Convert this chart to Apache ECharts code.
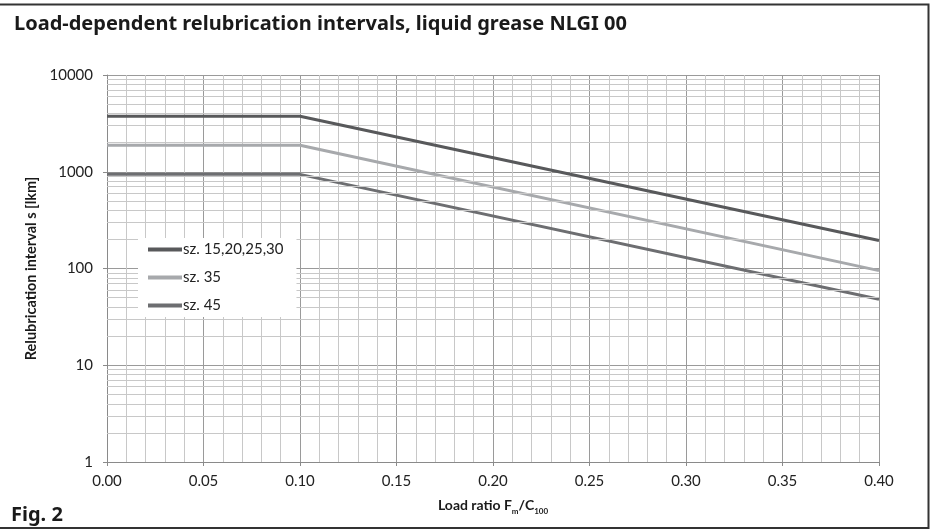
<!DOCTYPE html>
<html>
<head>
<meta charset="utf-8">
<script src="https://cdn.jsdelivr.net/npm/echarts@6/dist/echarts.min.js"></script>
<style>
html,body{margin:0;padding:0;background:#fff;}
#chart{width:930px;height:530px;}
</style>
</head>
<body>
<div id="chart"></div>
<script>
// Data
const loadRatio = [0.00, 0.10, 0.40];
const sz15_30 = [3750, 3750, 195];
const sz35 = [1875, 1875, 95];
const sz45 = [940, 940, 48];
const seriesNames = ['sz. 15,20,25,30', 'sz. 35', 'sz. 45'];
const xTicks = ['0.00','0.05','0.10','0.15','0.20','0.25','0.30','0.35','0.40'];
const yTicks = [1, 10, 100, 1000, 10000];
const yMinorGrid = [2,3,4,5,6,7,8,9,20,30,40,50,60,70,80,90,200,300,400,500,600,700,800,900,2000,3000,4000,5000,6000,7000,8000,9000];

const chart = echarts.init(document.getElementById('chart'), null, {renderer:'canvas'});
const pair = arr => loadRatio.map((x,i)=>[x, arr[i]]);
const fontLabel = 'Lato, "Open Sans", sans-serif';

chart.setOption({
  animation:false,
  backgroundColor:'#fff',
  title:[
    {text:'Load-dependent relubrication intervals, liquid grease NLGI 00', left:9, top:9,
     textStyle:{fontFamily:'"Noto Sans", "Open Sans", sans-serif', fontSize:20, fontWeight:'bold', color:'#1a1a1a'}},
    {text:'Fig. 2', left:6, top:500,
     textStyle:{fontFamily:'"Noto Sans", "Open Sans", sans-serif', fontSize:20, fontWeight:'bold', color:'#1a1a1a'}}
  ],
  graphic:[
    {type:'polyline', silent:true, z:100, shape:{points:[[0,4.5],[928.5,4.5],[928.5,528],[0,528]]},
     style:{stroke:'#333', lineWidth:2, fill:null}}
  ],
  legend:{
    data:seriesNames.map(n=>({name:n, icon:'rect'})),
    orient:'vertical', left:138, top:238, z:20,
    padding:[4,13,4,10], itemGap:13, itemWidth:34, itemHeight:4,
    backgroundColor:'#fff',
    textStyle:{fontFamily:fontLabel, fontSize:15, color:'#222', padding:[0,0,0,-4]}
  },
  grid:{left:107, right:51, top:75, bottom:68, containLabel:false},
  xAxis:{
    type:'value', min:0, max:0.4, interval:0.05,
    name:'{b|Load ratio F}{s|m}{b|/C}{s|100}', nameLocation:'middle', nameGap:36,
    nameTextStyle:{rich:{
      b:{fontFamily:fontLabel, fontSize:14, fontWeight:'bold', color:'#1a1a1a', verticalAlign:'bottom'},
      s:{fontFamily:fontLabel, fontSize:8, fontWeight:'bold', color:'#1a1a1a', verticalAlign:'bottom', padding:[0,0,-3,0]}
    }},
    axisLine:{show:true, lineStyle:{color:'#8a8a8a', width:1}},
    axisTick:{show:true, length:4, lineStyle:{color:'#8a8a8a'}},
    axisLabel:{fontFamily:fontLabel, fontSize:15, color:'#222', margin:12,
      formatter:(v)=>xTicks[Math.round(v/0.05)]},
    splitLine:{show:true, lineStyle:{color:'#9a9a9a', width:1}},
    minorTick:{show:false, splitNumber:5},
    minorSplitLine:{show:true, lineStyle:{color:'#c8c8c8', width:1}}
  },
  yAxis:{
    type:'log', logBase:10, min:1, max:10000,
    name:'Relubrication interval s [lkm]', nameLocation:'middle', nameGap:64,
    nameTextStyle:{fontFamily:fontLabel, fontSize:14.5, fontWeight:'bold', color:'#1a1a1a'},
    axisLine:{show:true, lineStyle:{color:'#8a8a8a', width:1}},
    axisTick:{show:true, length:4, lineStyle:{color:'#8a8a8a'}},
    axisLabel:{fontFamily:fontLabel, fontSize:15, color:'#222', margin:14,
      formatter:(v)=>{const t=yTicks.find(k=>Math.abs(k-v)<1e-6*k); return t===undefined?'':String(t);}},
    splitLine:{show:true, lineStyle:{color:'#9a9a9a', width:1}}
  },
  series:[
    {type:'line', name:'gridMinor', data:[], silent:true, z:1,
     markLine:{silent:true, symbol:'none', animation:false, label:{show:false},
       lineStyle:{color:'#c8c8c8', width:1, type:'solid'},
       emphasis:{disabled:true},
       data:yMinorGrid.map(v=>({yAxis:v}))}},
    {type:'line', name:seriesNames[0], data:pair(sz15_30), symbol:'none', z:5,
     lineStyle:{color:'#58595b', width:3}, itemStyle:{color:'#58595b'}},
    {type:'line', name:seriesNames[1], data:pair(sz35), symbol:'none', z:4,
     lineStyle:{color:'#a7a9ac', width:3}, itemStyle:{color:'#a7a9ac'}},
    {type:'line', name:seriesNames[2], data:pair(sz45), symbol:'none', z:4,
     lineStyle:{color:'#6d6e71', width:3}, itemStyle:{color:'#6d6e71'}}
  ]
});
</script>
</body>
</html>
